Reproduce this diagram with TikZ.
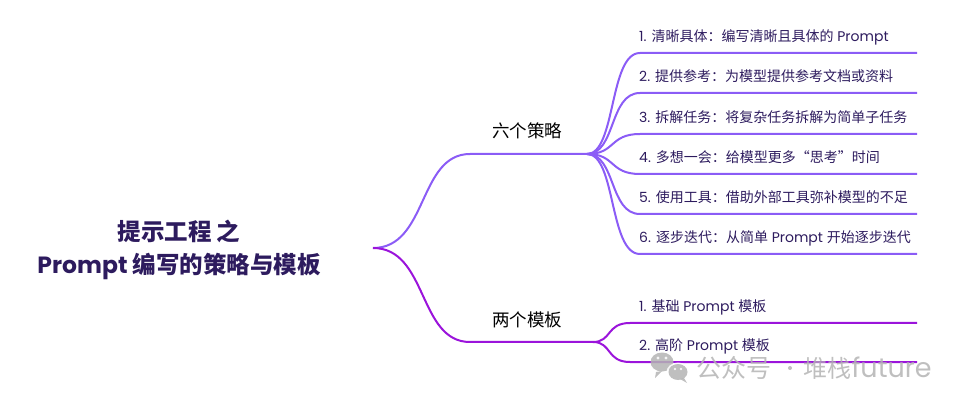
\documentclass[tikz,border=0pt]{standalone}
\usepackage{fontspec}
\setmainfont{Poppins}
\newfontfamily\cjk{Noto Sans CJK SC}
\newcommand\zh[1]{{\cjk #1}}
\definecolor{vio}{HTML}{8B5CF6}
\definecolor{pur}{HTML}{9B14DB}
\definecolor{ink}{HTML}{2D1B5E}
\definecolor{wm}{HTML}{B4B4B4}
\tikzset{
  vline/.style={line width=2pt,vio},
  pline/.style={line width=2pt,pur},
  leaf/.style={anchor=base west,inner sep=0pt,text=ink,font=\fontsize{14}{16}\selectfont},
  branchlbl/.style={inner sep=0pt,text=black,font=\fontsize{17.5}{20}\selectfont\cjk},
  wmtxt/.style={text=wm,anchor=west,inner sep=0pt},
}
\begin{document}
\begin{tikzpicture}[x=1pt,y=-1pt]
\useasboundingbox (0,0) rectangle (962,406);
% root
\node[align=center,text=ink,inner sep=0pt,font=\fontsize{23.5}{33}\selectfont\bfseries] (root) at (179,250)
  {\zh{提示工程 之}\\Prompt \zh{编写的策略与模板}};
\coordinate (rA) at (373,248);
% branch labels
\node[branchlbl] (b1) at (527,131) {六个策略};
\node[branchlbl] (b2) at (527,320) {两个模板};
\coordinate (s0) at (470,154);
\coordinate (s1) at (587,154);
\coordinate (t0) at (470,342);
\coordinate (t1) at (593,342);
\draw[vline] (rA) .. controls (428,248) and (418,154) .. (s0) -- (s1);
\draw[pline] (rA) .. controls (428,248) and (418,342) .. (t0) -- (t1);
% six strategies
\foreach \i/\y/\t in {
  1/53/{1. \zh{清晰具体：编写清晰且具体的} Prompt},
  2/93/{2. \zh{提供参考：为模型提供参考文档或资料}},
  3/134/{3. \zh{拆解任务：将复杂任务拆解为简单子任务}},
  4/174/{4. \zh{多想一会：给模型更多“思考”时间}},
  5/214/{5. \zh{使用工具：借助外部工具弥补模型的不足}},
  6/254/{6. \zh{逐步迭代：从简单} Prompt \zh{开始逐步迭代}}}{
  \node[leaf] (s\i t) at (639,\y-11) {\t};
  \coordinate (s\i a) at (640,\y);
  \coordinate (s\i b) at (917,\y);
  \draw[vline] (s1) .. controls (616,154) and (609,\y) .. (s\i a) -- (s\i b);
}
% two templates
\foreach \i/\y/\t in {
  1/323/{1. \zh{基础} Prompt \zh{模板}},
  2/362/{2. \zh{高阶} Prompt \zh{模板}}}{
  \node[leaf] (m\i t) at (639,\y-11) {\t};
  \coordinate (m\i a) at (630,\y);
  \coordinate (m\i b) at (917,\y);
  \draw[pline] (t1) .. controls (612,342) and (606,\y) .. (m\i a) -- (m\i b);
}
% watermark
\begin{scope}[opacity=0.85]
\fill[wm] (662,362) ellipse (11.5 and 9.5);
\fill[wm] (656,372) -- (655,378) -- (662,371) -- cycle;
\fill[white] (678,372) ellipse (11.5 and 9.5);
\fill[wm] (678,372) ellipse (9.5 and 8);
\fill[wm] (684,378) -- (687,383) -- (680,379) -- cycle;
\fill[white] (658,358) circle (1.6) (666,358) circle (1.6) (675,369) circle (1.3) (681,369) circle (1.3);
\node[wmtxt,font=\fontsize{25}{27}\selectfont\cjk] (wm1) at (696,368) {公众号};
\fill[wm] (790,368) circle (2);
\node[wmtxt,font=\fontsize{24}{27}\selectfont\cjk] (wm2) at (803,368) {堆栈};
\node[wmtxt,font=\fontsize{27}{29}\selectfont,anchor=base west] (wm3) at (wm2.base east) {future};
\end{scope}
\end{tikzpicture}
\end{document}
